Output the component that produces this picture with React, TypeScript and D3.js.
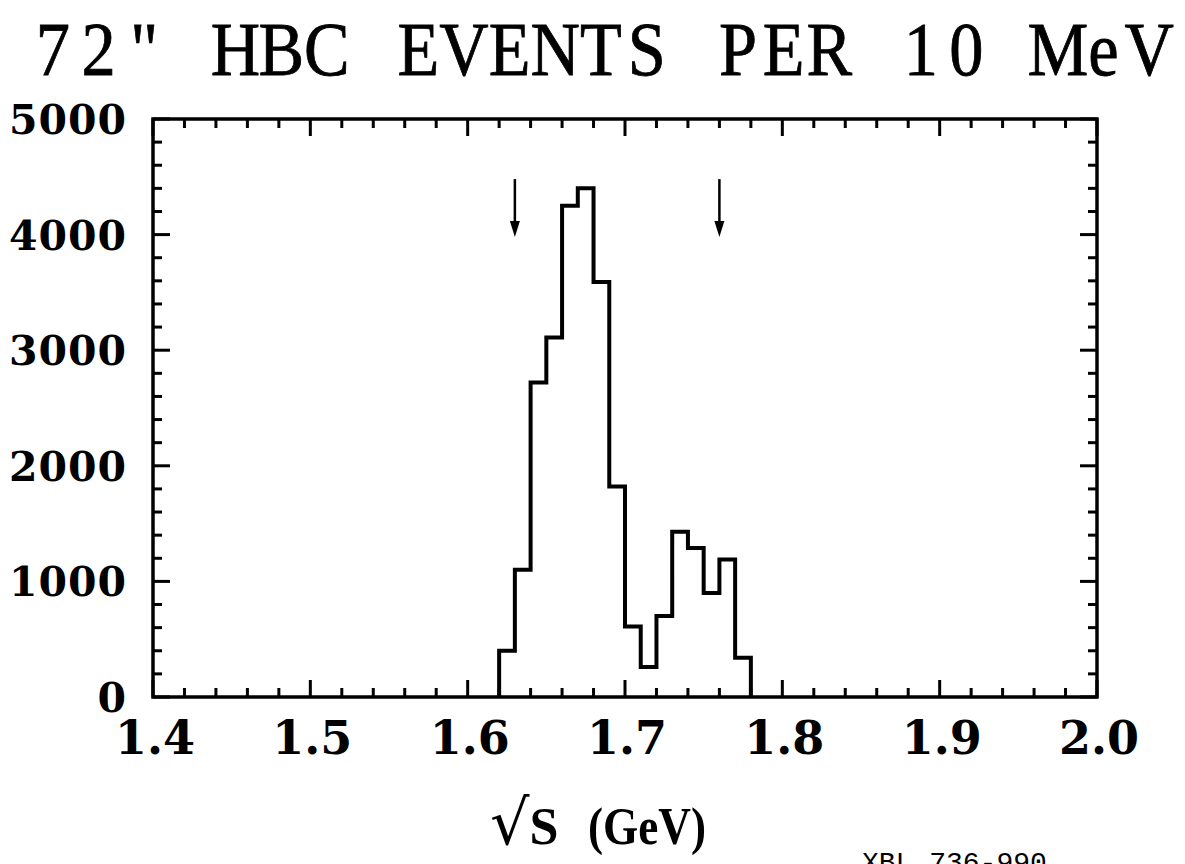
import React from "react";
import * as d3 from "d3";

// Canvas
const WIDTH = 1185;
const HEIGHT = 864;

// Histogram: lower bin edges (GeV) and events per 10 MeV bin
const binEdges = [
  1.62, 1.63, 1.64, 1.65, 1.66, 1.67, 1.68, 1.69, 1.7, 1.71, 1.72, 1.73, 1.74,
  1.75, 1.76, 1.77,
];
const binCounts = [
  400, 1100, 2720, 3110, 4250, 4400, 3590, 1820, 610, 260, 700, 1430, 1290,
  900, 1190, 340,
];
const BIN_WIDTH = 0.01;

// Axes
const xTicks = [1.4, 1.5, 1.6, 1.7, 1.8, 1.9, 2.0];
const xTickLabels = ["1.4", "1.5", "1.6", "1.7", "1.8", "1.9", "2.0"];
const yTicks = [0, 1000, 2000, 3000, 4000, 5000];
const yTickLabels = ["0", "1000", "2000", "3000", "4000", "5000"];

// Marker arrows (GeV) and their vertical extent (events)
const arrowPositions = [1.63, 1.76];
const arrowTail = 4480;
const arrowTip = 3980;

const titleText = '72" HBC EVENTS PER 10 MeV';
const plateLabel = "XBL 736-990";

const plot = { left: 153, right: 1097, top: 119, bottom: 697 };

export default function App() {
  const x = d3.scaleLinear().domain([1.4, 2.0]).range([plot.left, plot.right]);
  const y = d3.scaleLinear().domain([0, 5000]).range([plot.bottom, plot.top]);

  // Outline of the histogram as a single stepped path
  const pts: [number, number][] = [[binEdges[0], 0]];
  binEdges.forEach((s, i) => {
    pts.push([s, binCounts[i]]);
    pts.push([s + BIN_WIDTH, binCounts[i]]);
  });
  pts.push([binEdges[binEdges.length - 1] + BIN_WIDTH, 0]);
  const histLine = d3
    .line<[number, number]>()
    .x((d) => x(d[0]))
    .y((d) => y(d[1]));

  // Tick marks: minor every 0.02 GeV / 200 events, major every 0.1 / 1000
  const xMinor = d3.range(0, 31).map((k) => ({ v: 1.4 + k * 0.02, major: k % 5 === 0 }));
  const yMinor = d3.range(0, 26).map((k) => ({ v: k * 200, major: k % 5 === 0 }));
  const MAJ = 17;
  const MIN = 9;

  // Title laid out on a fixed typewriter pitch
  const pitch = 45.68;
  const titleX0 = 30;
  const sx = 0.9;
  const titlePos = Array.from(titleText).map(
    (_, i) => (titleX0 + (i + 0.5) * pitch) / sx
  );

  const tickFont = "DejaVu Serif";

  return (
    <svg
      width={WIDTH}
      height={HEIGHT}
      style={{ position: "absolute", left: 0, top: 0, background: "#fff" }}
    >
      <rect x={0} y={0} width={WIDTH} height={HEIGHT} fill="#fff" />

      <text
        transform={`scale(${sx},1)`}
        x={titlePos.join(" ")}
        y={75}
        textAnchor="middle"
        fontFamily="Liberation Serif"
        fontSize={76}
        fill="#000"
        stroke="#000"
        strokeWidth={0.8}
      >
        {titleText}
      </text>

      {/* frame ticks */}
      <g stroke="#000" strokeWidth={3}>
        {xMinor.map((t, i) => (
          <g key={"xt" + i}>
            <line
              x1={x(t.v)}
              x2={x(t.v)}
              y1={plot.bottom}
              y2={plot.bottom - (t.major ? MAJ : MIN)}
            />
            <line
              x1={x(t.v)}
              x2={x(t.v)}
              y1={plot.top}
              y2={plot.top + (t.major ? MAJ : MIN)}
            />
          </g>
        ))}
        {yMinor.map((t, i) => (
          <g key={"yt" + i}>
            <line
              x1={plot.left}
              x2={plot.left + (t.major ? MAJ : MIN)}
              y1={y(t.v)}
              y2={y(t.v)}
            />
            <line
              x1={plot.right}
              x2={plot.right - (t.major ? MAJ : MIN)}
              y1={y(t.v)}
              y2={y(t.v)}
            />
          </g>
        ))}
      </g>

      <rect
        x={plot.left}
        y={plot.top}
        width={plot.right - plot.left}
        height={plot.bottom - plot.top}
        fill="none"
        stroke="#000"
        strokeWidth={3.5}
      />

      <path
        d={histLine(pts) || ""}
        fill="none"
        stroke="#000"
        strokeWidth={4}
        strokeLinejoin="miter"
      />

      {/* arrows */}
      {arrowPositions.map((a, i) => (
        <g key={"ar" + i}>
          <line
            x1={x(a)}
            x2={x(a)}
            y1={y(arrowTail)}
            y2={y(arrowTip) - 8}
            stroke="#000"
            strokeWidth={2.5}
          />
          <path
            d={`M${x(a) - 5},${y(arrowTip) - 16} L${x(a) + 5},${y(arrowTip) - 16} L${x(a)},${y(arrowTip)} Z`}
            fill="#000"
          />
        </g>
      ))}

      {/* y tick labels */}
      {yTicks.map((v, i) => (
        <text
          key={"yl" + i}
          x={127}
          y={y(v) + 15}
          textAnchor="end"
          fontFamily={tickFont}
          fontWeight="bold"
          fontSize={41}
          letterSpacing={1}
          fill="#000"
        >
          {yTickLabels[i]}
        </text>
      ))}

      {/* x tick labels */}
      {xTicks.map((v, i) => (
        <text
          key={"xl" + i}
          x={x(v) + 2}
          y={754}
          textAnchor="middle"
          fontFamily={tickFont}
          fontWeight="bold"
          fontSize={46}
          fill="#000"
        >
          {xTickLabels[i]}
        </text>
      ))}

      {/* x axis title */}
      <text fontFamily="Liberation Serif" fontWeight="bold" fill="#000" y={844}>
        <tspan x={490} fontSize={62} fontWeight="normal" fontFamily={tickFont}>
          {"\u221A"}
        </tspan>
        <tspan fontSize={52}>{"S "}</tspan>
        <tspan x={588} fontSize={52} textLength={118} lengthAdjust="spacingAndGlyphs">
          (GeV)
        </tspan>
      </text>

      <text
        x={862}
        y={871}
        fontFamily="Liberation Mono"
        fontSize={28}
        fill="#000"
      >
        {plateLabel}
      </text>
    </svg>
  );
}
